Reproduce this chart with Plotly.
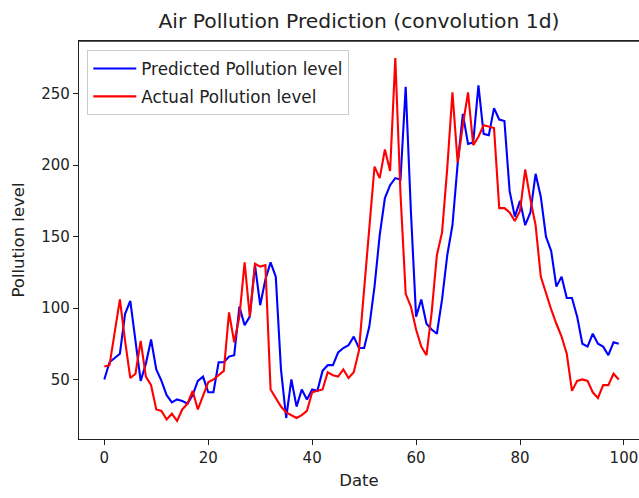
import plotly.graph_objects as go

dates = list(range(100))

predicted = [50, 62, 65, 68, 96, 105, 77, 49, 61, 78,
             57, 49, 39, 34, 36, 35, 33, 39, 49, 52,
             41, 41, 62, 62, 66, 67, 101, 88, 94, 130,
             102, 120, 132, 122, 57, 23, 50, 31, 43, 36,
             43, 42, 56, 60, 60, 69, 72, 74, 80, 72,
             72, 87, 115, 151, 177, 186, 191, 190, 255, 168,
             94, 106, 89, 85, 82, 106, 137, 158, 201, 236,
             215, 216, 256, 222, 221, 240, 232, 231, 182, 164,
             175, 158, 167, 194, 178, 150, 140, 115, 122, 107,
             107, 94, 75, 73, 82, 75, 73, 67, 76, 75]

actual = [59, 60, 83, 106, 77, 51, 54, 77, 52, 46,
          29, 28, 22, 26, 21, 29, 33, 42, 29, 38,
          48, 50, 53, 56, 97, 76, 94, 132, 94, 131,
          129, 130, 43, 37, 31, 27, 25, 23, 25, 28,
          41, 42, 43, 55, 53, 52, 57, 51, 55, 70,
          114, 157, 199, 191, 211, 196, 275, 180, 110, 101,
          85, 73, 67, 97, 137, 153, 198, 251, 202, 228,
          251, 214, 220, 228, 227, 226, 170, 170, 167, 161,
          168, 197, 176, 158, 122, 110, 99, 89, 80, 68,
          42, 49, 50, 49, 41, 37, 46, 46, 54, 50]

title_text = "Air Pollution Prediction (convolution 1d)"
x_label = "Date"
y_label = "Pollution level"
x_ticks = [0, 20, 40, 60, 80, 100]
y_ticks = [50, 100, 150, 200, 250]

FONT = "DejaVu Sans"
INK = "#222222"
W, H = 639, 498

fig = go.Figure()
fig.add_trace(go.Scatter(x=dates, y=predicted, mode="lines",
                         name="Predicted Pollution level",
                         line=dict(color="#0000ff", width=2.1),
                         legendgroup="p"))
fig.add_trace(go.Scatter(x=dates, y=actual, mode="lines",
                         name="Actual Pollution level",
                         line=dict(color="#ff0000", width=2.1),
                         legendgroup="a"))

axis_common = dict(showgrid=False, zeroline=False, showline=True,
                   linecolor=INK, linewidth=1.3, automargin=False,
                   ticks="outside", ticklen=5, tickwidth=1.2,
                   tickcolor=INK,
                   tickfont=dict(family=FONT, size=15, color=INK))

# top spine of the frame (right spine lies outside the visible area)
fig.add_shape(type="line", xref="paper", yref="paper", x0=0, x1=1, y0=1, y1=1,
              line=dict(color=INK, width=1.3), layer="above")

fig.update_layout(
    width=W, height=H,
    margin=dict(l=79, r=0, t=41, b=59, autoexpand=False),
    paper_bgcolor="white", plot_bgcolor="white",
    font=dict(family=FONT, color=INK),
    title=dict(text=title_text, x=0.5, xref="paper", xanchor="center",
               y=1 - 21 / H, yref="container", yanchor="middle",
               font=dict(family=FONT, size=20.3, color=INK)),
    xaxis=dict(range=[-4.87, 102.9], tickvals=x_ticks, mirror=True,
               title=dict(text=x_label, standoff=8,
                          font=dict(family=FONT, size=16.5, color=INK)),
               **axis_common),
    yaxis=dict(range=[8.3, 287.0], tickvals=y_ticks,
               title=dict(text=y_label, standoff=12,
                          font=dict(family=FONT, size=16.5, color=INK)),
               **axis_common),
    legend=dict(x=0.0148, y=0.977, xanchor="left", yanchor="top",
                bgcolor="rgba(255,255,255,0.8)", bordercolor="#cccccc",
                borderwidth=1, font=dict(family=FONT, size=16.8, color=INK),
                traceorder="grouped", tracegroupgap=3, itemwidth=43),
    showlegend=True,
)

fig.write_html(
    "out.html",
    config={"displayModeBar": False},
    post_script="document.body.style.margin='0';"
                "document.documentElement.style.overflow='hidden';",
)
